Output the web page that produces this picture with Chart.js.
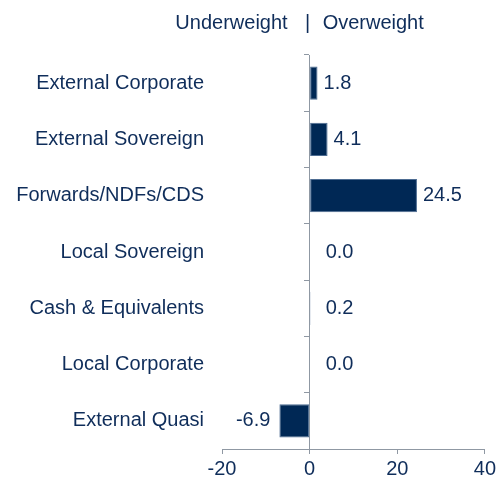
<!DOCTYPE html>
<html>
<head>
<meta charset="utf-8">
<script src="https://cdn.jsdelivr.net/npm/chart.js@4"></script>
<style>
  body { margin: 0; background: #fff; }
</style>
</head>
<body>
<canvas id="posChart" width="499" height="481"></canvas>
<script>
// Categorias e valores
const categories = [
    "External Corporate",
    "External Sovereign",
    "Forwards/NDFs/CDS",
    "Local Sovereign",
    "Cash & Equivalents",
    "Local Corporate",
    "External Quasi"
];
const weights = [1.8, 4.1, 24.5, 0.0, 0.2, 0.0, -6.9];
const xTicks = [-20, 0, 20, 40];

const navy = '#0f2d5a';
const axisGray = '#8f98a3';
const fontFamily = "'Liberation Sans', Arial, sans-serif";
const fontSize = 20;

// Título "Underweight | Overweight" alinhado com o zero
const headerPlugin = {
    id: 'header',
    afterDraw(chart) {
        const ctx = chart.ctx;
        const x0 = chart.scales.x.getPixelForValue(0);
        ctx.save();
        ctx.font = fontSize + 'px ' + fontFamily;
        ctx.fillStyle = navy;
        ctx.textBaseline = 'middle';
        ctx.textAlign = 'right';
        ctx.fillText('Underweight', x0 - 22, 23);
        ctx.textAlign = 'center';
        ctx.fillText('|', x0 - 2, 23);
        ctx.textAlign = 'left';
        ctx.fillText('Overweight', x0 + 13, 23);
        ctx.restore();
    }
};

// Rótulos de valor ao lado das barras
const valueLabels = {
    id: 'valueLabels',
    afterDatasetsDraw(chart) {
        const ctx = chart.ctx;
        const meta = chart.getDatasetMeta(0);
        const x0 = chart.scales.x.getPixelForValue(0);
        ctx.save();
        ctx.font = fontSize + 'px ' + fontFamily;
        ctx.fillStyle = navy;
        ctx.textBaseline = 'middle';
        meta.data.forEach((bar, i) => {
            const v = weights[i];
            const txt = v.toFixed(1);
            if (v < 0) {
                ctx.textAlign = 'right';
                ctx.fillText(txt, bar.x - 9, bar.y);
            } else if (v < 1) {
                ctx.textAlign = 'left';
                ctx.fillText(txt, x0 + 16, bar.y);
            } else {
                ctx.textAlign = 'left';
                ctx.fillText(txt, bar.x + 6, bar.y);
            }
        });
        ctx.restore();
    }
};

const ctx = document.getElementById('posChart').getContext('2d');
const posChart = new Chart(ctx, {
    type: 'bar',
    data: {
        labels: categories,
        datasets: [{
            data: weights,
            backgroundColor: '#002855',
            borderColor: '#4d6c92',
            borderWidth: 1,
            borderSkipped: false,
            categoryPercentage: 1,
            barPercentage: 0.59
        }]
    },
    options: {
        indexAxis: 'y',
        responsive: false,
        animation: false,
        layout: {
            padding: { top: 55, right: 14, bottom: 0, left: 0 }
        },
        plugins: {
            legend: { display: false },
            tooltip: { enabled: false }
        },
        scales: {
            x: {
                min: xTicks[0],
                max: xTicks[xTicks.length - 1],
                afterBuildTicks: (scale) => {
                    scale.ticks = xTicks.map(v => ({ value: v }));
                },
                afterFit: (scale) => { scale.height = 32; },
                grid: {
                    display: true,
                    drawOnChartArea: false,
                    drawTicks: true,
                    tickLength: 5,
                    color: axisGray
                },
                border: { display: true, color: axisGray },
                ticks: {
                    padding: 3,
                    color: navy,
                    font: { size: fontSize, family: fontFamily }
                }
            },
            y: {
                type: 'category',
                afterFit: (scale) => { scale.width = 222; },
                grid: { display: false, drawTicks: false },
                border: { display: false },
                ticks: {
                    padding: 18,
                    color: navy,
                    font: { size: fontSize, family: fontFamily }
                }
            },
            // Eixo no zero com as marcas entre categorias
            y2: {
                type: 'category',
                labels: categories,
                position: { x: 0 },
                offset: true,
                grid: {
                    offset: true,
                    drawOnChartArea: false,
                    drawTicks: true,
                    tickLength: 5,
                    color: axisGray
                },
                border: { display: true, color: axisGray },
                ticks: { display: false }
            }
        }
    },
    plugins: [headerPlugin, valueLabels]
});
</script>
</body>
</html>
